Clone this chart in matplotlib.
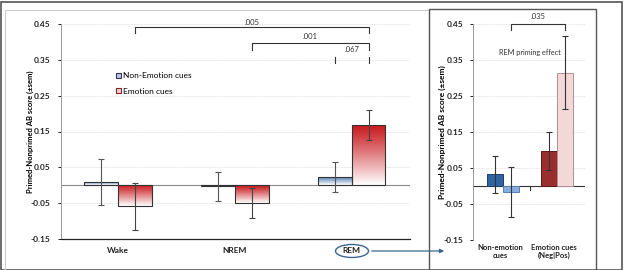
import matplotlib
matplotlib.use("Agg")
import matplotlib.pyplot as plt
import numpy as np
from matplotlib.patches import Rectangle, Ellipse, Patch, FancyArrowPatch

plt.rcParams["font.family"] = ["Lato", "DejaVu Sans"]

# left panel: priming score by sleep condition
conditions = ["Wake", "NREM", "REM"]
nonemo = [0.010, -0.003, 0.023]
nonemo_err = [0.064, 0.041, 0.043]
emo = [-0.059, -0.050, 0.168]
emo_err = [0.065, 0.042, 0.043]

# right panel: REM priming effect
groups = ["Non-emotion\ncues", "Emotion cues\n(Neg|Pos)"]
rem_vals = [0.032, -0.017, 0.098, 0.315]
rem_err = [0.052, 0.069, 0.053, 0.101]

yticks = [-0.15, -0.05, 0.05, 0.15, 0.25, 0.35, 0.45]
ylab = "Primed-Nonprimed AB score (\u00b1sem)"

W, H = 625, 270
fig = plt.figure(figsize=(W / 100, H / 100), dpi=100)
fig.patch.set_facecolor("white")


def fx(px):
    return px / W


def fy(py):
    return 1 - py / H


# panel frames
fig.add_artist(Rectangle((fx(0.5), fy(269.5)), fx(621.5), fy(2) - fy(269.5),
                         transform=fig.transFigure, fill=False, ec="#555555", lw=1.2))
fig.add_artist(Rectangle((fx(5), fy(275)), fx(424), fy(10) - fy(275),
                         transform=fig.transFigure, fill=False, ec="#cccccc", lw=0.8))
fig.add_artist(Rectangle((fx(429), fy(275)), fx(167), fy(9) - fy(275),
                         transform=fig.transFigure, fill=False, ec="#555555", lw=1.0))


def gradient_bar(ax, rect, color):
    x, y = rect.get_x(), rect.get_y()
    w, h = rect.get_width(), rect.get_height()
    top = max(y, y + h)
    bot = min(y, y + h)
    grad = np.linspace(0, 1, 64).reshape(-1, 1) ** 1.1
    c = np.array(matplotlib.colors.to_rgb(color))
    img = c[None, None, :] * (1 - grad[:, :, None]) + np.ones(3)[None, None, :] * grad[:, :, None]
    im = ax.imshow(img, extent=(x, x + w, bot, top), aspect="auto", origin="upper", zorder=2)
    im.set_clip_path(rect)


tick_font = dict(fontsize=6, fontweight="bold", color="#222222")

# ---------- left panel ----------
ax = fig.add_axes([fx(61), fy(239), fx(410 - 61), fy(24) - fy(239)])
x = np.arange(len(conditions))
bw = 0.29
b1 = ax.bar(x - bw / 2, nonemo, bw, color="none", edgecolor="#333333", lw=0.8, zorder=3)
b2 = ax.bar(x + bw / 2, emo, bw, color="none", edgecolor="#333333", lw=0.8, zorder=3)
for r in b1:
    gradient_bar(ax, r, "#4a78b0")
for r in b2:
    gradient_bar(ax, r, "#c8181c")
ax.errorbar(x - bw / 2, nonemo, yerr=nonemo_err, fmt="none", ecolor="#555555", elinewidth=0.8, capsize=2, capthick=0.8, zorder=4)
ax.errorbar(x + bw / 2, emo, yerr=emo_err, fmt="none", ecolor="#444444", elinewidth=0.8, capsize=2, capthick=0.8, zorder=4)
ax.axhline(0, color="#888888", lw=0.8, zorder=1)
ax.set_xlim(-0.487, 2.5)
ax.set_ylim(-0.15, 0.45)
ax.set_yticks(yticks)
ax.set_yticklabels([f"{v:.2f}" for v in yticks], **tick_font)
ax.set_xticks(x)
ax.set_xticklabels(conditions, **tick_font)
ax.tick_params(axis="x", length=0, pad=6)
ax.tick_params(axis="y", length=2, width=0.6, pad=6)
ax.grid(axis="y", color="#e2e2e2", lw=0.6, ls=(0, (2, 1)))
ax.set_axisbelow(True)
for s in ["top", "right"]:
    ax.spines[s].set_visible(False)
ax.spines["left"].set_color("#999999")
ax.spines["left"].set_linewidth(0.7)
ax.spines["bottom"].set_color("#222222")
ax.spines["bottom"].set_linewidth(0.9)
ax.set_ylabel(ylab, fontsize=5.5, fontweight="bold")
ax.yaxis.set_label_coords(-0.076, 0.5)


# significance brackets
def bracket(ax, x0, x1, y, drop, label, ty, draw_line=True, color="#333333"):
    if draw_line:
        ax.plot([x0, x0, x1, x1], [y - drop, y, y, y - drop], color=color, lw=0.8, clip_on=False)
    else:
        ax.plot([x0, x0], [y, y - drop], color=color, lw=0.8, clip_on=False)
        ax.plot([x1, x1], [y, y - drop], color=color, lw=0.8, clip_on=False)
    ax.text((x0 + x1) / 2, ty, label, ha="center", va="center", fontsize=5.5, color="#333333", clip_on=False)


bracket(ax, x[0] + bw / 2, x[2] + bw / 2, 0.442, 0.017, ".005", 0.455)
bracket(ax, x[1] + bw / 2, x[2] + bw / 2, 0.398, 0.02, ".001", 0.415)
bracket(ax, x[2] - bw / 2, x[2] + bw / 2, 0.358, 0.017, ".067", 0.38, draw_line=False)

ax.legend(handles=[Patch(facecolor="#b8c8e0", edgecolor="#333355", lw=0.8, label="Non-Emotion cues"),
                   Patch(facecolor="#f0d0d0", edgecolor="#8a2020", lw=0.8, label="Emotion cues")],
          loc="upper left", bbox_to_anchor=(0.145, 0.795), frameon=False, fontsize=6,
          handlelength=0.6, handleheight=0.6, handletextpad=0.3, labelspacing=1.0, borderpad=0)

# REM circle and arrow
fig.add_artist(Ellipse((fx(352), fy(251)), fx(33), 13 / H, transform=fig.transFigure,
                       fill=False, ec="#3a6690", lw=1.0))
fig.add_artist(FancyArrowPatch((fx(369), fy(251)), (fx(447), fy(251)),
                               transform=fig.transFigure, arrowstyle="-|>",
                               mutation_scale=6, color="#3a6690", lw=0.9))

# ---------- right panel ----------
ax2 = fig.add_axes([fx(473), fy(240), fx(585 - 473), fy(24) - fy(240)])
gx = np.arange(len(groups))
bw2 = 0.296
pos = [gx[0] - bw2 / 2, gx[0] + bw2 / 2, gx[1] - bw2 / 2, gx[1] + bw2 / 2]
cols = ["#2f64a0", "#88aee0", "#9a2e2e", "#f2d8d6"]
ax2.bar(pos, rem_vals, bw2, color=cols, edgecolor=["#223f66", "#5b7fb0", "#5e1a1a", "#b09090"], lw=0.7, zorder=3)
ax2.errorbar(pos, rem_vals, yerr=rem_err, fmt="none", ecolor="#333333", elinewidth=0.8, capsize=2, capthick=0.8, zorder=4)
ax2.axhline(0, color="#333333", lw=0.8, zorder=2)
ax2.plot([0.5, 0.5], [0, -0.012], color="#333333", lw=0.8)
ax2.plot([1.52, 1.52], [0, -0.012], color="#333333", lw=0.8)
ax2.set_xlim(-0.556, 1.52)
ax2.set_ylim(-0.15, 0.45)
ax2.set_yticks(yticks)
ax2.set_yticklabels([f"{v:.2f}" for v in yticks], **tick_font)
ax2.tick_params(axis="y", length=2, width=0.6, pad=5)
ax2.set_xticks(gx - 0.05)
ax2.set_xticklabels(groups, fontsize=5.5, fontweight="bold", color="#222222", linespacing=1.15)
ax2.tick_params(axis="x", length=0, pad=3)
ax2.grid(axis="y", color="#e2e2e2", lw=0.6, ls=(0, (2, 1)))
ax2.set_axisbelow(True)
for s in ["top", "right", "bottom"]:
    ax2.spines[s].set_visible(False)
ax2.spines["left"].set_color("#999999")
ax2.spines["left"].set_linewidth(0.7)
ax2.set_ylabel(ylab, fontsize=6, fontweight="bold")
ax2.yaxis.set_label_coords(-0.245, 0.5)

bracket(ax2, pos[1], pos[3], 0.45, 0.017, ".035", 0.47)
ax2.text(0.5, 0.372, "REM priming effect", ha="center", va="center", fontsize=5.2, color="#333333")

fig.savefig("out.png", dpi=100, facecolor="white")
